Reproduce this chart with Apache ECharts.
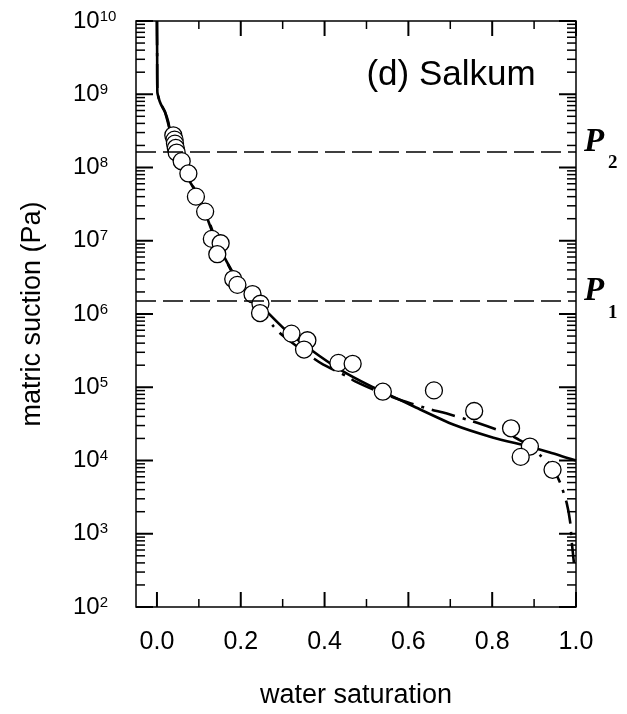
<!DOCTYPE html>
<html lang="en">
<head>
<meta charset="UTF-8">
<title>Salkum</title>
<script src="https://cdn.jsdelivr.net/npm/echarts@6/dist/echarts.min.js"></script>
<style>
    html, body { margin: 0; padding: 0; background: #fff; }
    #main { width: 627px; height: 714px; }
</style>
</head>
<body>
<div id="main"></div>
<script>
    // measured points: water saturation / matric suction (Pa)
    let satData = [0.039, 0.042, 0.043, 0.045, 0.047, 0.059, 0.075, 0.093, 0.115, 0.131,
        0.152, 0.144, 0.182, 0.192, 0.228, 0.247, 0.246, 0.321, 0.359, 0.351,
        0.433, 0.467, 0.539, 0.661, 0.757, 0.845, 0.890, 0.868, 0.944];
    let suctionData = [2.75e8, 2.4e8, 2.12e8, 1.85e8, 1.6e8, 1.22e8, 8.3e7, 4.0e7, 2.5e7, 1.06e7,
        9.25e6, 6.55e6, 3.0e6, 2.5e6, 1.87e6, 1.38e6, 1.03e6, 5.4e5, 4.38e5, 3.27e5,
        2.15e5, 2.09e5, 8.7e4, 9.06e4, 4.74e4, 2.75e4, 1.55e4, 1.12e4, 7.47e3];

    // model curve, solid
    let solidSat = [0.0, 0.0005, 0.001, 0.005, 0.009, 0.019, 0.027, 0.030, 0.038, 0.046,
        0.055, 0.074, 0.095, 0.113, 0.135, 0.162, 0.182, 0.198, 0.222, 0.254,
        0.301, 0.369, 0.437, 0.508, 0.612, 0.707, 0.803, 0.882, 0.938, 1.0];
    let solidSuction = [1e10, 3.2e9, 1.07e9, 8.5e8, 7.4e8, 5.75e8, 4.2e8, 3.4e8, 2.4e8, 1.66e8,
        1.17e8, 7.1e7, 4.4e7, 2.6e7, 1.2e7, 5.8e6, 3.6e6, 2.5e6, 1.78e6, 1.2e6,
        6.5e5, 3.2e5, 1.74e5, 1.05e5, 5.5e4, 3.1e4, 2.05e4, 1.58e4, 1.29e4, 1.0e4];

    // model curve, dash-dot
    let dashSat = [0.0, 0.0005, 0.001, 0.009, 0.019, 0.030, 0.046, 0.06, 0.078, 0.1,
        0.118, 0.14, 0.166, 0.19, 0.22, 0.25, 0.278, 0.298, 0.329, 0.375,
        0.397, 0.453, 0.473, 0.52, 0.588, 0.647, 0.69, 0.745, 0.787, 0.831,
        0.862, 0.89, 0.915, 0.938, 0.962, 0.978, 0.986, 0.990, 0.995];
    let dashSuction = [1e10, 3.2e9, 1.07e9, 7.4e8, 5.75e8, 3.4e8, 1.66e8, 1.0e8, 6.6e7, 4.0e7,
        2.3e7, 1.05e7, 5.2e6, 2.9e6, 1.74e6, 1.1e6, 6.8e5, 5.2e5, 3.8e5, 2.45e5,
        2.04e5, 1.41e5, 1.2e5, 9.1e4, 6.5e4, 5.1e4, 4.4e4, 3.55e4, 2.95e4, 2.4e4,
        1.95e4, 1.58e4, 1.17e4, 8.9e3, 5.0e3, 2.6e3, 1.45e3, 760, 400];

    // threshold suctions
    let p2Suction = 1.65e8;
    let p1Suction = 1.5e6;

    // axis ticks
    let xMajorTicks = [0, 0.2, 0.4, 0.6, 0.8, 1.0];
    let xMinorTicks = [0.1, 0.3, 0.5, 0.7, 0.9];
    let yDecades = [2, 3, 4, 5, 6, 7, 8, 9, 10];
    let yMinorFactors = [2, 3, 4, 5, 6, 7, 8, 9];

    const X_MIN = -0.05, X_MAX = 1.0;
    const FONT = '"Liberation Sans", Arial, sans-serif';

    function toPairs(xs, ys) {
        return xs.map((x, i) => [x, Math.log10(ys[i])]);
    }

    // tick marks drawn inside the frame on all four sides
    let tickData = [];
    xMajorTicks.forEach(v => tickData.push([v, 2, 0, 15, 2]));
    xMinorTicks.forEach(v => tickData.push([v, 2, 0, 8, 1.5]));
    yDecades.forEach(d => tickData.push([X_MIN, d, 1, 17, 2]));
    yDecades.slice(0, -1).forEach(d => {
        yMinorFactors.forEach(f => tickData.push([X_MIN, d + Math.log10(f), 1, 9, 1.5]));
    });

    function renderTick(params, api) {
        let cs = params.coordSys;
        let p = api.coord([api.value(0), api.value(1)]);
        let len = api.value(3);
        let st = {stroke: '#000', lineWidth: api.value(4)};
        if (api.value(2) === 0) {
            let yb = cs.y + cs.height;
            return {type: 'group', children: [
                {type: 'line', shape: {x1: p[0], y1: yb, x2: p[0], y2: yb - len}, style: st},
                {type: 'line', shape: {x1: p[0], y1: cs.y, x2: p[0], y2: cs.y + len}, style: st}
            ]};
        }
        let xr = cs.x + cs.width;
        return {type: 'group', children: [
            {type: 'line', shape: {x1: cs.x, y1: p[1], x2: cs.x + len, y2: p[1]}, style: st},
            {type: 'line', shape: {x1: xr, y1: p[1], x2: xr - len, y2: p[1]}, style: st}
        ]};
    }

    let myChart = echarts.init(document.getElementById('main'));

    let option = {
        animation: false,
        backgroundColor: '#fff',
        grid: {
            left: 136, right: 51, top: 21, bottom: 104,
            show: true, borderColor: '#000', borderWidth: 1.5, backgroundColor: 'transparent'
        },
        xAxis: {
            type: 'value', min: X_MIN, max: X_MAX, interval: 0.05,
            axisLine: {show: false}, axisTick: {show: false}, splitLine: {show: false},
            axisLabel: {
                margin: 23, fontSize: 25, color: '#000', fontFamily: FONT,
                formatter: v => {
                    if (v < -1e-9) return '';
                    let k = v * 5;
                    return Math.abs(k - Math.round(k)) < 1e-6 ? v.toFixed(1) : '';
                }
            },
            name: 'water saturation', nameLocation: 'middle', nameGap: 75,
            nameTextStyle: {fontSize: 27, color: '#000', fontFamily: FONT}
        },
        yAxis: {
            type: 'value', min: 2, max: 10, interval: 1,
            axisLine: {show: false}, axisTick: {show: false}, splitLine: {show: false},
            axisLabel: {
                align: 'left', margin: 63,
                formatter: v => '{b|10}{s|' + v + '}',
                rich: {
                    b: {fontSize: 24, color: '#000', fontFamily: FONT},
                    s: {fontSize: 15, color: '#000', fontFamily: FONT, verticalAlign: 'top'}
                }
            },
            name: 'matric suction (Pa)', nameLocation: 'middle', nameGap: 90,
            nameTextStyle: {fontSize: 27, color: '#000', fontFamily: FONT}
        },
        series: [
            {
                type: 'custom', renderItem: renderTick, data: tickData,
                encode: {x: 0, y: 1}, silent: true, z: 5
            },
            {
                type: 'line', data: toPairs(solidSat, solidSuction),
                showSymbol: false, smooth: 0.2, silent: true,
                lineStyle: {color: '#000', width: 2.6},
                markLine: {
                    silent: true, symbol: 'none', label: {show: false},
                    lineStyle: {color: '#000', width: 1.5, type: [20, 7]},
                    data: [{yAxis: Math.log10(p2Suction)}, {yAxis: Math.log10(p1Suction)}]
                },
                z: 2
            },
            {
                type: 'line', data: toPairs(dashSat, dashSuction),
                showSymbol: false, smooth: 0.2, silent: true,
                lineStyle: {color: '#000', width: 2.6, type: [24, 8, 3, 8]},
                z: 2
            },
            {
                type: 'scatter', data: toPairs(satData, suctionData),
                symbol: 'circle', symbolSize: 17, silent: true,
                itemStyle: {color: '#fff', borderColor: '#000', borderWidth: 1.3, opacity: 1},
                z: 4
            }
        ]
    };
    myChart.setOption(option);

    // labels: panel title and P1 / P2 next to the threshold lines
    let xRight = myChart.convertToPixel({xAxisIndex: 0}, X_MAX);
    function pLabel(sub, suction) {
        let y = myChart.convertToPixel({yAxisIndex: 0}, Math.log10(suction));
        return [
            {type: 'text', x: xRight + 8, y: y + 7,
                style: {text: 'P', font: 'italic bold 33px "Liberation Serif", serif', fill: '#000',
                    textAlign: 'left', textVerticalAlign: 'bottom'}},
            {type: 'text', x: xRight + 32, y: y + 21,
                style: {text: sub, font: 'bold 19px "Liberation Serif", serif', fill: '#000',
                    textAlign: 'left', textVerticalAlign: 'bottom'}}
        ];
    }
    myChart.setOption({
        graphic: [
            {type: 'text', x: 451, y: 75,
                style: {text: '(d) Salkum', font: '35px ' + FONT, fill: '#000',
                    textAlign: 'center', textVerticalAlign: 'middle'}}
        ].concat(pLabel('2', p2Suction), pLabel('1', p1Suction))
    });
</script>
</body>
</html>
